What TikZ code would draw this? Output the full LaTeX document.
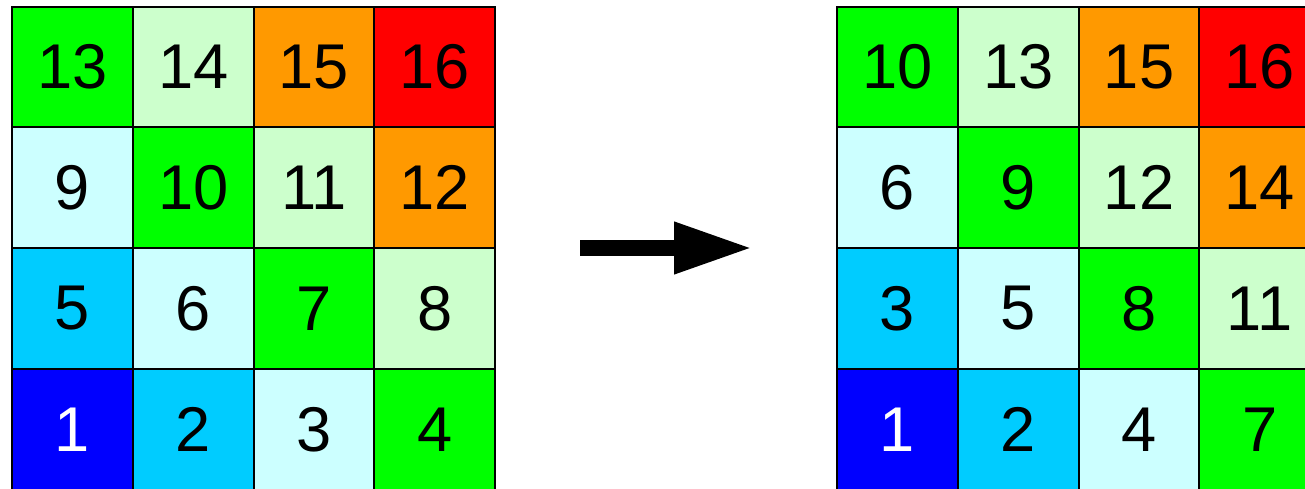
\documentclass[tikz,border=0pt]{standalone}
\usepackage{fontspec}
\setmainfont{Liberation Sans}
\usetikzlibrary{arrows.meta}
\definecolor{farbe0}{HTML}{0000FF}
\definecolor{farbe1}{HTML}{00CCFF}
\definecolor{farbe2}{HTML}{CCFFFF}
\definecolor{farbe3}{HTML}{00FF00}
\definecolor{farbe4}{HTML}{CCFFCC}
\definecolor{farbe5}{HTML}{FF9900}
\definecolor{farbe6}{HTML}{FF0000}
\def\zahlenA{13,14,15,16,9,10,11,12,5,6,7,8,1,2,3,4}
\def\zahlenB{10,13,15,16,6,9,12,14,3,5,8,11,1,2,4,7}
\def\zelle{120.8}
\tikzset{
  feld/.style={draw=black, line width=0.04cm, minimum size=2.416cm, inner sep=0pt, outer sep=0pt,
    font=\fontsize{36}{40}\selectfont},
  pfeil/.style={-{Triangle[length=1.58cm, width=0.96cm]}, line width=0.32cm, black},
}
\begin{document}
\begin{tikzpicture}[x=0.02cm, y=-0.02cm]
  \useasboundingbox (0,0) rectangle (1305,489);
  \clip (0,0) rectangle (1305,489);

  % ---------------- linkes Gitter ----------------
  \foreach \n [count=\k from 0] in \zahlenA {
    \pgfmathtruncatemacro\zeile{int(\k/4)}
    \pgfmathtruncatemacro\spalte{mod(\k,4)}
    \pgfmathtruncatemacro\f{\spalte+3-\zeile}
    \ifnum\f=0 \def\tc{white}\else\def\tc{black}\fi
    \node[feld, fill=farbe\f, text=\tc] (A\n) at ({12+(\spalte+0.5)*\zelle},{6.5+(\zeile+0.5)*\zelle}) {\n};
  }

  % ---------------- rechtes Gitter ----------------
  \foreach \n [count=\k from 0] in \zahlenB {
    \pgfmathtruncatemacro\zeile{int(\k/4)}
    \pgfmathtruncatemacro\spalte{mod(\k,4)}
    \pgfmathtruncatemacro\f{\spalte+3-\zeile}
    \ifnum\f=0 \def\tc{white}\else\def\tc{black}\fi
    \node[feld, fill=farbe\f, text=\tc] (B\n) at ({837+(\spalte+0.5)*\zelle},{6.5+(\zeile+0.5)*\zelle}) {\n};
  }

  % ---------------- Pfeil ----------------
  \coordinate (pfeilA) at (580,248);
  \coordinate (pfeilB) at (753,248);
  \draw[pfeil] (pfeilA) -- (pfeilB);
\end{tikzpicture}
\end{document}
